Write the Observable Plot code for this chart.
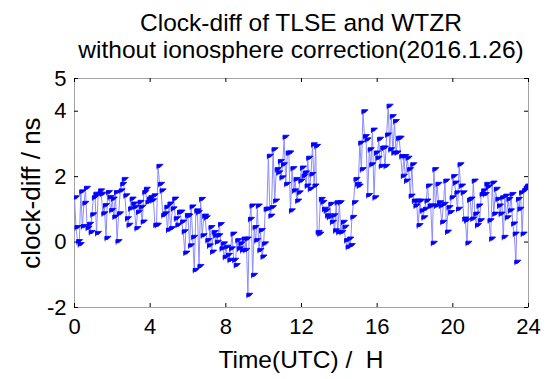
<!DOCTYPE html>
<html>
<head>
<meta charset="utf-8">
<script src="https://cdn.jsdelivr.net/npm/d3@7"></script>
<script src="https://cdn.jsdelivr.net/npm/@observablehq/plot@0.6"></script>
<style>
  html, body { margin: 0; padding: 0; background: #fff; }
  #wrap { position: relative; width: 550px; height: 379px; font-family: "Liberation Sans", Arial, sans-serif; color: #000; overflow: hidden; }
  #wrap svg { position: absolute; left: 0; top: 0; }
  .t { position: absolute; white-space: pre; font-size: 24.5px; line-height: 24px; transform: translateX(-50%); }
  #ylab { position: absolute; white-space: pre; font-size: 26px; line-height: 26px; transform: translate(-50%, -50%) rotate(-90deg); }
</style>
</head>
<body>
<div id="wrap"></div>
<script>
// ---- data ----
const titleLines = ["Clock-diff of TLSE and WTZR", "without ionosphere correction(2016.1.26)"];
const xLabel = "Time(UTC) /  H";
const yLabel = "clock-diff / ns";
const xTicks = [0, 4, 8, 12, 16, 20, 24];
const yTicks = [-2, 0, 2, 4, 5];
const sampleMinutes = 5;            // 5-minute epochs over the day
// clock difference, ns (one value per epoch)
const clockDiff = [
  // 0-6 h
  1.34, 0.43, 0.00, -0.09, 1.52, 0.46, 1.17, 1.63, 0.41, 0.53, 0.28, 0.82,
  1.34, 1.45, 0.25, 1.45, 1.55, 1.45, 0.85, 1.10, 0.10, 1.50, 1.35, 0.95,
  1.30, 0.75, 1.50, 0.00, 0.85, 1.55, 1.75, 1.90, 1.40, 0.70, 0.50, 1.00,
  1.30, 1.15, 1.05, 0.40, 0.90, 1.20, 1.05, 0.60, 1.50, 1.60, 1.20, 1.30,
  1.35, 1.25, 1.40, 0.50, 0.50, 2.30, 1.75, 1.55, 0.80, 0.85, 1.05, 0.35,
  1.15, 0.40, 1.00, 1.30, 0.70, 0.50, 0.90, 0.90, 0.60, 0.30, -0.35, 0.80,
  // 6-12 h
  0.78, -0.13, 1.06, 0.13, -0.88, 0.94, 0.89, -0.76, 1.29, 0.18,
  0.78, 0.73, 0.03, -0.13, 0.43, -0.32, 0.28, 0.18, -0.02, 0.18, 0.52, -0.22,
  -0.07, -0.48, -0.17, -0.42, -0.57, -0.22, 0.23, -0.57, -0.73, 0.03, -0.22, -0.07,
  -0.27, 0.08, -0.27, 0.08, -1.64, 0.68, 1.09, -1.03, 0.43, 0.03, 1.09, -0.27,
  0.34, -0.47, -0.07, 0.99, 0.99, 2.61, 0.78, 1.04, 2.81, 1.24, 2.20, 2.10,
  2.45, 1.95, 2.35, 3.19, 1.75, 2.71, 2.71, 0.94, 2.23, 1.55, 1.90, 1.24, 1.49, 1.85,
  // 12-18 h
  2.25, 2.00, 2.10, 1.70, 2.55, 1.60, 2.05, 2.96, 1.70, 2.91, 0.28, 0.23,
  1.29, 1.20, 0.99, 0.94, 0.79, 0.74, 1.14, 0.59, 0.79, 0.33, 1.19, 0.28,
  1.19, 0.28, 0.59, 0.44, 0.03, -0.17, 0.08, -0.12, 0.74, 1.19, 1.90, 1.75,
  1.70, 3.01, 2.20, 3.97, 3.21, 3.11, 1.41, 2.81, 2.35, 3.41, 1.34, 2.71,
  2.55, 3.13, 2.30, 2.86, 2.86, 2.30, 3.26, 4.14, 2.81, 3.82, 2.71, 3.67,
  2.71, 3.16, 3.16, 2.60, 2.00, 2.60, 1.85, 2.55, 2.20, 1.39, 2.35, 1.24,
  // 18-24 h
  1.09, 1.24, 0.49, 1.24, 0.94, 0.73, 0.99, 1.24, 1.70, 1.09, 1.09, -0.05,
  2.20, 1.09, 1.75, 1.19, 1.09, 0.59, 1.14, 1.85, 0.29, 1.04, 0.89, 1.34,
  1.99, 1.79, 1.49, 0.99, 2.35, 1.70, 1.49, 0.69, 0.64, -0.05, 1.27, 1.30,
  0.69, 1.85, 0.84, 0.49, 1.09, 0.64, 1.44, 1.55, 1.44, 1.75, 1.67, 0.64,
  0.08, 1.79, 0.84, 1.60, 1.29, 1.09, 0.84, 1.34, 0.13, 1.39, 0.73, 1.29,
  0.94, 1.44, 0.54, 0.23, -0.63, 1.29, 0.99, 1.49, 0.23, 1.56, 1.64, 1.70
];

const data = clockDiff.map((v, i) => ({hour: i * sampleMinutes / 60, v}));

// small pennant-like marker
const flag = {
  draw(ctx) {
    ctx.moveTo(-1, -2.5);
    ctx.lineTo(5, -2.5);
    ctx.lineTo(2, 0.5);
    ctx.lineTo(-1, 1);
    ctx.closePath();
    ctx.moveTo(-1, -2.5);
    ctx.lineTo(-1, 2.5);
  }
};

const W = 550, H = 379;
const mL = 74, mR = 22, mT = 78, mB = 72;
const innerH = H - mT - mB;
const innerW = W - mL - mR;
const tickLen = 4;

const chart = Plot.plot({
  width: W,
  height: H,
  marginLeft: mL,
  marginRight: mR,
  marginTop: mT,
  marginBottom: mB,
  style: {fontFamily: '"Liberation Sans", Arial, sans-serif', fontSize: "22px", color: "#000", background: "#fff"},
  x: {domain: [0, 24], ticks: xTicks, tickSize: 0, tickPadding: 11, label: null, tickFormat: d => String(d)},
  y: {domain: [-2, 5], ticks: yTicks, tickSize: 0, tickPadding: 8, label: null, tickFormat: d => String(d)},
  marks: [
    Plot.frame({stroke: "#a3a3a3", strokeWidth: 1}),
    Plot.tickX(xTicks, {x: d => d, insetTop: innerH - tickLen, stroke: "#000"}),
    Plot.tickX(xTicks, {x: d => d, insetBottom: innerH - tickLen, stroke: "#000"}),
    Plot.tickY(yTicks, {y: d => d, insetRight: innerW - tickLen, stroke: "#000"}),
    Plot.tickY(yTicks, {y: d => d, insetLeft: innerW - tickLen, stroke: "#000"}),
    Plot.line(data, {x: "hour", y: "v", stroke: "#8c8cff", strokeWidth: 1, clip: true}),
    Plot.dot(data, {x: "hour", y: "v", symbol: flag, fill: "#0000ff", stroke: "#0000ff", strokeWidth: 0.8, clip: true})
  ]
});

const wrap = document.getElementById("wrap");
wrap.appendChild(chart);

const cx = mL + innerW / 2;
// title lines (baselines ~30 and ~57)
[[titleLines[0], 31], [titleLines[1], 58]].forEach(([txt, base]) => {
  const d = document.createElement("div");
  d.className = "t";
  d.textContent = txt;
  d.style.left = cx + "px";
  d.style.top = (base - 20.5) + "px";
  wrap.appendChild(d);
});
// x label
const xl = document.createElement("div");
xl.className = "t";
xl.textContent = xLabel;
xl.style.left = cx + "px";
xl.style.top = (368 - 20.5) + "px";
wrap.appendChild(xl);
// y label
const yl = document.createElement("div");
yl.id = "ylab";
yl.textContent = yLabel;
yl.style.left = "31px";
yl.style.top = (mT + innerH / 2) + "px";
wrap.appendChild(yl);
</script>
</body>
</html>
